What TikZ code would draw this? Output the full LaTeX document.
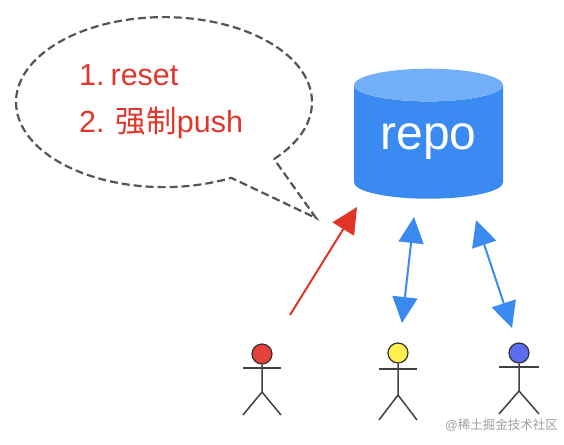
\documentclass[tikz,border=0pt]{standalone}
\usepackage{fontspec}
\setmainfont{Liberation Sans}
\newfontfamily\cjk{Noto Sans CJK SC}
\usetikzlibrary{arrows.meta,positioning,shapes.geometric}
\definecolor{repoblue}{HTML}{3A8AF2}
\definecolor{repotop}{HTML}{72AFF7}
\definecolor{alertred}{HTML}{E2352A}
\definecolor{dashgray}{HTML}{555555}
\definecolor{headred}{HTML}{E8403A}
\definecolor{headyellow}{HTML}{FFF04D}
\definecolor{headblue}{HTML}{5C6CF0}
\tikzset{
  bubble/.style={draw=dashgray, line width=2.2pt, dash pattern=on 8pt off 4pt},
  item/.style={font=\fontsize{30.5}{30.5}\selectfont, text=alertred, inner sep=0pt, anchor=base west},
  repobox/.style={cylinder, shape border rotate=90, aspect=0.34, cylinder uses custom fill,
                  cylinder body fill=repoblue, cylinder end fill=repotop, draw=none, inner sep=0pt,
                  minimum width=149pt, minimum height=130pt, text=white,
                  font=\fontsize{48}{48}\selectfont},
  redsig/.style={-{Triangle[length=26pt,width=25pt]}, alertred, line width=2pt},
  bluesig/.style={{Triangle[length=26pt,width=25pt]}-{Triangle[length=26pt,width=25pt]}, repoblue, line width=2pt},
  head/.style={circle, draw=black!80, line width=1.2pt, minimum size=20pt, inner sep=0pt},
  limb/.style={draw=black!75, line width=1.5pt},
  credit/.style={font=\fontsize{12.5}{12.5}\selectfont, text=black!38, inner sep=0pt},
}
\begin{document}
\begin{tikzpicture}[x=1pt,y=1pt]
    \useasboundingbox (0,0) rectangle (564,444);
    % speech bubble
    \coordinate (tip) at (316,226);
    \draw[bubble] (274,285) arc[start angle=-42,end angle=297,x radius=148,y radius=85] -- (tip) -- cycle;
    \node[item] (reset) at (79,358) {1.\hspace{6pt}reset};
    \node[item] (force) at (79,311) {2. {\cjk 强制}push};
    % repo
    \node[repobox] (repo) at (428.5,302) {repo};
    % actors
    \foreach \name/\cx/\cy/\arm/\hip/\foot/\half/\col in {
      redman/262/90/76/52/29/19/headred,
      yellowman/398/91/75/49/24/19/headyellow,
      blueman/519/91/77/53/30/20/headblue} {
      \node[head,fill=\col] (\name) at (\cx,\cy) {};
      \draw[limb] (\name.south) -- (\cx,\hip) -- (\cx-\half,\foot);
      \draw[limb] (\cx,\hip) -- (\cx+\half,\foot);
      \draw[limb] (\cx-\half,\arm) -- (\cx+\half,\arm);
    }
    % arrows
    \coordinate (redfrom) at (290,129);
    \coordinate (redto) at (357,237);
    \coordinate (blueatop) at (414,227);
    \coordinate (blueabot) at (402,121);
    \coordinate (bluebtop) at (476,224);
    \coordinate (bluebbot) at (512,116);
    \draw[redsig] (redfrom) -- (redto);
    \draw[bluesig] (blueatop) -- (blueabot);
    \draw[bluesig] (bluebtop) -- (bluebbot);
    \node[credit,anchor=base west] (site) at (445,15) {@{\cjk 稀土掘金技术社区}};
  \end{tikzpicture}
\end{document}
